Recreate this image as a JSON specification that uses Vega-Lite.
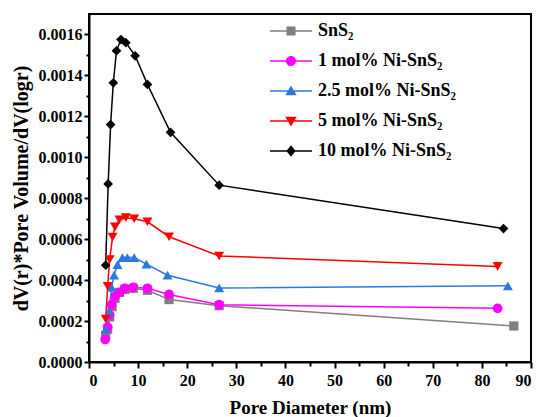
{
  "$schema": "https://vega.github.io/schema/vega-lite/v6.json",
  "width": 442,
  "height": 348,
  "autosize": {"type": "none"},
  "padding": {"left": 89, "top": 14, "right": 8, "bottom": 55},
  "background": "white",
  "config": {
    "view": {"stroke": "black", "strokeWidth": 2},
    "font": "Liberation Serif",
    "axis": {
      "labelFont": "Liberation Serif", "labelFontWeight": "bold", "labelFontSize": 16, "labelColor": "black",
      "titleFont": "Liberation Serif", "titleFontWeight": "bold", "titleColor": "black",
      "domainColor": "black", "domainWidth": 2, "tickColor": "black", "tickWidth": 2, "grid": false
    },
    "legend": {
      "labelFont": "Liberation Serif", "labelFontWeight": "bold", "labelFontSize": 18, "labelColor": "black"
    }
  },
  "data": {"values": [
    {"sample": "SnS₂", "d": 3.4, "v": 0.00013},
    {"sample": "SnS₂", "d": 3.8, "v": 0.00016},
    {"sample": "SnS₂", "d": 4.2, "v": 0.00022},
    {"sample": "SnS₂", "d": 4.7, "v": 0.00027},
    {"sample": "SnS₂", "d": 5.3, "v": 0.00031},
    {"sample": "SnS₂", "d": 6.2, "v": 0.00034},
    {"sample": "SnS₂", "d": 7.3, "v": 0.000355},
    {"sample": "SnS₂", "d": 9.0, "v": 0.00036},
    {"sample": "SnS₂", "d": 11.9, "v": 0.00035},
    {"sample": "SnS₂", "d": 16.3, "v": 0.000305},
    {"sample": "SnS₂", "d": 26.5, "v": 0.000275},
    {"sample": "SnS₂", "d": 86.5, "v": 0.000176},
    {"sample": "1 mol% Ni-SnS₂", "d": 3.3, "v": 0.00011},
    {"sample": "1 mol% Ni-SnS₂", "d": 3.8, "v": 0.00017},
    {"sample": "1 mol% Ni-SnS₂", "d": 4.2, "v": 0.00023},
    {"sample": "1 mol% Ni-SnS₂", "d": 4.6, "v": 0.00028},
    {"sample": "1 mol% Ni-SnS₂", "d": 5.3, "v": 0.00032},
    {"sample": "1 mol% Ni-SnS₂", "d": 6.2, "v": 0.00034},
    {"sample": "1 mol% Ni-SnS₂", "d": 7.3, "v": 0.00036},
    {"sample": "1 mol% Ni-SnS₂", "d": 9.0, "v": 0.000365},
    {"sample": "1 mol% Ni-SnS₂", "d": 11.9, "v": 0.00036},
    {"sample": "1 mol% Ni-SnS₂", "d": 16.3, "v": 0.00033},
    {"sample": "1 mol% Ni-SnS₂", "d": 26.5, "v": 0.00028},
    {"sample": "1 mol% Ni-SnS₂", "d": 83.2, "v": 0.000262},
    {"sample": "2.5 mol% Ni-SnS₂", "d": 3.4, "v": 0.00016},
    {"sample": "2.5 mol% Ni-SnS₂", "d": 4.1, "v": 0.000245},
    {"sample": "2.5 mol% Ni-SnS₂", "d": 4.6, "v": 0.000364},
    {"sample": "2.5 mol% Ni-SnS₂", "d": 5.1, "v": 0.000424},
    {"sample": "2.5 mol% Ni-SnS₂", "d": 5.8, "v": 0.000476},
    {"sample": "2.5 mol% Ni-SnS₂", "d": 6.8, "v": 0.00051},
    {"sample": "2.5 mol% Ni-SnS₂", "d": 7.8, "v": 0.00051},
    {"sample": "2.5 mol% Ni-SnS₂", "d": 9.2, "v": 0.00051},
    {"sample": "2.5 mol% Ni-SnS₂", "d": 11.7, "v": 0.000478},
    {"sample": "2.5 mol% Ni-SnS₂", "d": 16.0, "v": 0.000424},
    {"sample": "2.5 mol% Ni-SnS₂", "d": 26.5, "v": 0.000362},
    {"sample": "2.5 mol% Ni-SnS₂", "d": 85.3, "v": 0.000372},
    {"sample": "5 mol% Ni-SnS₂", "d": 3.4, "v": 0.00021},
    {"sample": "5 mol% Ni-SnS₂", "d": 3.8, "v": 0.00037},
    {"sample": "5 mol% Ni-SnS₂", "d": 4.2, "v": 0.0005},
    {"sample": "5 mol% Ni-SnS₂", "d": 4.8, "v": 0.00061},
    {"sample": "5 mol% Ni-SnS₂", "d": 5.3, "v": 0.00066},
    {"sample": "5 mol% Ni-SnS₂", "d": 6.2, "v": 0.000695},
    {"sample": "5 mol% Ni-SnS₂", "d": 7.5, "v": 0.000705},
    {"sample": "5 mol% Ni-SnS₂", "d": 9.2, "v": 0.0007},
    {"sample": "5 mol% Ni-SnS₂", "d": 11.9, "v": 0.000685},
    {"sample": "5 mol% Ni-SnS₂", "d": 16.3, "v": 0.000612},
    {"sample": "5 mol% Ni-SnS₂", "d": 26.5, "v": 0.000518},
    {"sample": "5 mol% Ni-SnS₂", "d": 83.2, "v": 0.000467},
    {"sample": "10 mol% Ni-SnS₂", "d": 3.4, "v": 0.000473},
    {"sample": "10 mol% Ni-SnS₂", "d": 3.9, "v": 0.00087},
    {"sample": "10 mol% Ni-SnS₂", "d": 4.4, "v": 0.00116},
    {"sample": "10 mol% Ni-SnS₂", "d": 4.95, "v": 0.001364},
    {"sample": "10 mol% Ni-SnS₂", "d": 5.6, "v": 0.00152},
    {"sample": "10 mol% Ni-SnS₂", "d": 6.5, "v": 0.001575},
    {"sample": "10 mol% Ni-SnS₂", "d": 7.5, "v": 0.00156},
    {"sample": "10 mol% Ni-SnS₂", "d": 9.4, "v": 0.001496},
    {"sample": "10 mol% Ni-SnS₂", "d": 11.9, "v": 0.001356},
    {"sample": "10 mol% Ni-SnS₂", "d": 16.6, "v": 0.001122},
    {"sample": "10 mol% Ni-SnS₂", "d": 26.5, "v": 0.000864},
    {"sample": "10 mol% Ni-SnS₂", "d": 84.4, "v": 0.000652}
  ]},
  "resolve": {"axis": {"x": "independent", "y": "independent"}},
  "layer": [
    {
      "mark": {"type": "point", "filled": true, "size": 1, "opacity": 0, "strokeWidth": 0},
      "encoding": {
        "x": {"field": "d", "type": "quantitative", "scale": {"domain": [0, 90], "nice": false},
          "axis": {"orient": "bottom", "values": [0, 10, 20, 30, 40, 50, 60, 70, 80, 90], "tickSize": 6, "labelPadding": 4, "title": "Pore Diameter (nm)", "titleFontSize": 19, "titlePadding": 10}},
        "y": {"field": "v", "type": "quantitative", "scale": {"domain": [0, 0.0017], "nice": false},
          "axis": {"orient": "left", "values": [0, 0.0002, 0.0004, 0.0006, 0.0008, 0.001, 0.0012, 0.0014, 0.0016], "format": ".4f", "tickSize": 5, "labelPadding": 2, "title": "dV(r)*Pore Volume/dV(logr)", "titleFontSize": 20, "titlePadding": 7}},
        "color": {"field": "sample", "type": "nominal",
          "scale": {"domain": ["SnS₂", "1 mol% Ni-SnS₂", "2.5 mol% Ni-SnS₂", "5 mol% Ni-SnS₂", "10 mol% Ni-SnS₂"],
            "range": ["#7F7F7F", "#FF00FF", "#2B78E0", "#FF0000", "#000000"]},
          "legend": {"title": null, "orient": "none", "legendX": 181, "legendY": -4, "padding": 0,
            "symbolSize": 1764, "symbolStrokeWidth": 0, "symbolOpacity": 1, "labelOffset": 6, "rowPadding": -19.5}},
        "shape": {"field": "sample", "type": "nominal",
          "scale": {"domain": ["SnS₂", "1 mol% Ni-SnS₂", "2.5 mol% Ni-SnS₂", "5 mol% Ni-SnS₂", "10 mol% Ni-SnS₂"],
            "range": [
            "M-1,-0.036H1V0.036H-1Z M-0.214,-0.214H0.214V0.214H-0.214Z",
            "M-1,-0.036H1V0.036H-1Z M0.24,0A0.24,0.24 0 1,1 -0.24,0A0.24,0.24 0 1,1 0.24,0Z",
            "M-1,-0.036H1V0.036H-1Z M0,-0.26L0.27,0.2L-0.27,0.2Z",
            "M-1,-0.036H1V0.036H-1Z M-0.27,-0.2L0.27,-0.2L0,0.26Z",
            "M-1,-0.036H1V0.036H-1Z M0,-0.27L0.22,0L0,0.27L-0.22,0Z"]}}
      }
    },
    {
      "mark": {"type": "line", "strokeWidth": 1.5},
      "encoding": {
        "x": {"field": "d", "type": "quantitative", "scale": {"domain": [0, 90], "nice": false},
          "axis": {"orient": "bottom", "values": [5, 15, 25, 35, 45, 55, 65, 75, 85], "labels": false, "tickSize": 4, "domain": false, "title": null}},
        "y": {"field": "v", "type": "quantitative", "scale": {"domain": [0, 0.0017], "nice": false},
          "axis": {"orient": "left", "values": [0.0001, 0.0003, 0.0005, 0.0007, 0.0009, 0.0011, 0.0013, 0.0015], "labels": false, "tickSize": 3, "domain": false, "title": null}},
        "color": {"field": "sample", "type": "nominal",
          "scale": {"domain": ["SnS₂", "1 mol% Ni-SnS₂", "2.5 mol% Ni-SnS₂", "5 mol% Ni-SnS₂", "10 mol% Ni-SnS₂"],
            "range": ["#7F7F7F", "#FF00FF", "#2B78E0", "#FF0000", "#000000"]}},
        "order": {"field": "d", "type": "quantitative"}
      }
    },
    {
      "transform": [{"filter": "datum.sample === 'SnS₂'"}],
      "mark": {"type": "point", "filled": true, "size": 85, "opacity": 1, "strokeWidth": 0, "shape": "square"},
      "encoding": {
        "x": {"field": "d", "type": "quantitative", "axis": null},
        "y": {"field": "v", "type": "quantitative", "axis": null},
        "color": {"field": "sample", "type": "nominal",
          "scale": {"domain": ["SnS₂", "1 mol% Ni-SnS₂", "2.5 mol% Ni-SnS₂", "5 mol% Ni-SnS₂", "10 mol% Ni-SnS₂"],
            "range": ["#7F7F7F", "#FF00FF", "#2B78E0", "#FF0000", "#000000"]}}
      }
    },
    {
      "transform": [{"filter": "datum.sample === '1 mol% Ni-SnS₂'"}],
      "mark": {"type": "point", "filled": true, "size": 95, "opacity": 1, "strokeWidth": 0, "shape": "circle"},
      "encoding": {
        "x": {"field": "d", "type": "quantitative", "axis": null},
        "y": {"field": "v", "type": "quantitative", "axis": null},
        "color": {"field": "sample", "type": "nominal",
          "scale": {"domain": ["SnS₂", "1 mol% Ni-SnS₂", "2.5 mol% Ni-SnS₂", "5 mol% Ni-SnS₂", "10 mol% Ni-SnS₂"],
            "range": ["#7F7F7F", "#FF00FF", "#2B78E0", "#FF0000", "#000000"]}}
      }
    },
    {
      "transform": [{"filter": "datum.sample === '2.5 mol% Ni-SnS₂'"}],
      "mark": {"type": "point", "filled": true, "size": 100, "opacity": 1, "strokeWidth": 0, "shape": "triangle-up"},
      "encoding": {
        "x": {"field": "d", "type": "quantitative", "axis": null},
        "y": {"field": "v", "type": "quantitative", "axis": null},
        "color": {"field": "sample", "type": "nominal",
          "scale": {"domain": ["SnS₂", "1 mol% Ni-SnS₂", "2.5 mol% Ni-SnS₂", "5 mol% Ni-SnS₂", "10 mol% Ni-SnS₂"],
            "range": ["#7F7F7F", "#FF00FF", "#2B78E0", "#FF0000", "#000000"]}}
      }
    },
    {
      "transform": [{"filter": "datum.sample === '5 mol% Ni-SnS₂'"}],
      "mark": {"type": "point", "filled": true, "size": 100, "opacity": 1, "strokeWidth": 0, "shape": "triangle-down"},
      "encoding": {
        "x": {"field": "d", "type": "quantitative", "axis": null},
        "y": {"field": "v", "type": "quantitative", "axis": null},
        "color": {"field": "sample", "type": "nominal",
          "scale": {"domain": ["SnS₂", "1 mol% Ni-SnS₂", "2.5 mol% Ni-SnS₂", "5 mol% Ni-SnS₂", "10 mol% Ni-SnS₂"],
            "range": ["#7F7F7F", "#FF00FF", "#2B78E0", "#FF0000", "#000000"]}}
      }
    },
    {
      "transform": [{"filter": "datum.sample === '10 mol% Ni-SnS₂'"}],
      "mark": {"type": "point", "filled": true, "size": 95, "opacity": 1, "strokeWidth": 0, "shape": "diamond"},
      "encoding": {
        "x": {"field": "d", "type": "quantitative", "axis": null},
        "y": {"field": "v", "type": "quantitative", "axis": null},
        "color": {"field": "sample", "type": "nominal",
          "scale": {"domain": ["SnS₂", "1 mol% Ni-SnS₂", "2.5 mol% Ni-SnS₂", "5 mol% Ni-SnS₂", "10 mol% Ni-SnS₂"],
            "range": ["#7F7F7F", "#FF00FF", "#2B78E0", "#FF0000", "#000000"]}}
      }
    }
  ]
}
